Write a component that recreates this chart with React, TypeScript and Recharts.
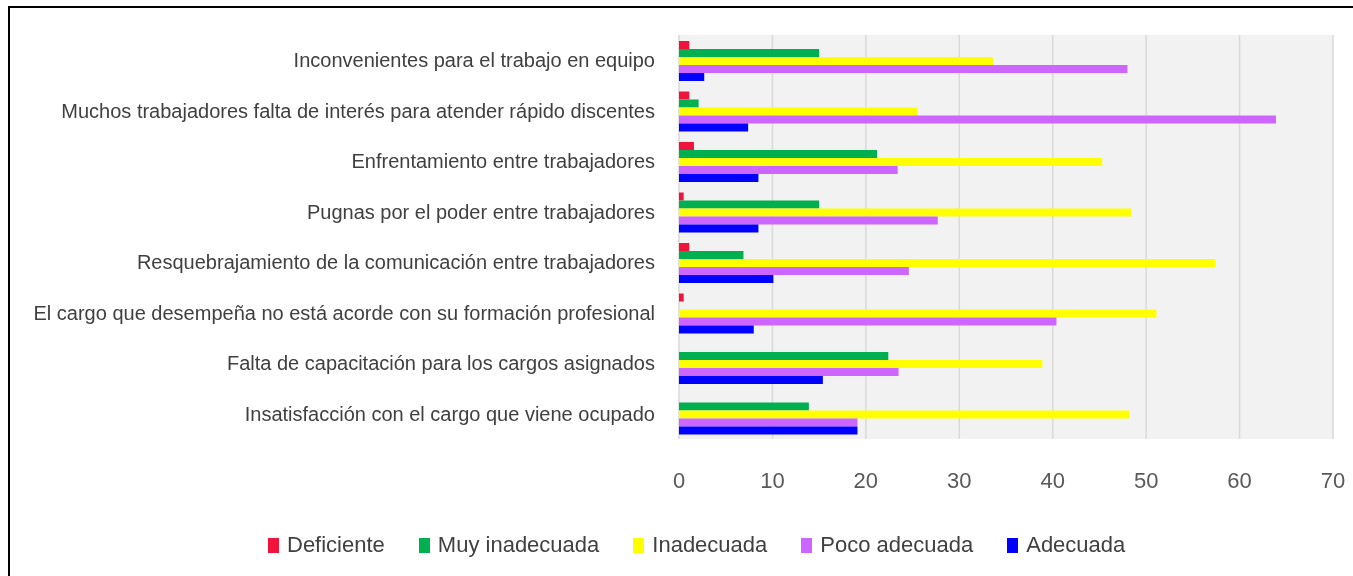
import { Bar, BarChart, CartesianGrid, Legend, XAxis, YAxis } from "recharts";

const categories = [
  "Inconvenientes para el trabajo en equipo",
  "Muchos trabajadores falta de interés para atender rápido discentes",
  "Enfrentamiento entre trabajadores",
  "Pugnas por el poder entre trabajadores",
  "Resquebrajamiento de la comunicación entre trabajadores",
  "El cargo que desempeña no está acorde con su formación profesional",
  "Falta de capacitación para los cargos asignados",
  "Insatisfacción con el cargo que viene ocupado",
];

const deficiente = [1.1, 1.1, 1.6, 0.5, 1.1, 0.5, 0, 0];
const muyInadecuada = [15, 2.1, 21.2, 15, 6.9, 0, 22.4, 13.9];
const inadecuada = [33.6, 25.5, 45.3, 48.4, 57.4, 51.1, 38.9, 48.2];
const pocoAdecuada = [48, 63.9, 23.4, 27.7, 24.6, 40.4, 23.5, 19.1];
const adecuada = [2.7, 7.4, 8.5, 8.5, 10.1, 8, 15.4, 19.1];

const xTicks = [0, 10, 20, 30, 40, 50, 60, 70];

const series = [
  { key: "deficiente", name: "Deficiente", color: "#f0143c" },
  { key: "muyInadecuada", name: "Muy inadecuada", color: "#00b050" },
  { key: "inadecuada", name: "Inadecuada", color: "#ffff00" },
  { key: "pocoAdecuada", name: "Poco adecuada", color: "#cc66ff" },
  { key: "adecuada", name: "Adecuada", color: "#0000ff" },
];

const data = categories.map((name, i) => ({
  name,
  deficiente: deficiente[i],
  muyInadecuada: muyInadecuada[i],
  inadecuada: inadecuada[i],
  pocoAdecuada: pocoAdecuada[i],
  adecuada: adecuada[i],
}));

const labelFont = "'Liberation Sans', Arial, sans-serif";

function ChartLegend() {
  return (
    <div
      style={{
        height: 30,
        display: "flex",
        alignItems: "center",
        paddingLeft: 260,
        fontFamily: labelFont,
        fontSize: 22,
        color: "#404040",
      }}
    >
      {series.map((s) => (
        <div key={s.key} style={{ display: "flex", alignItems: "center", marginRight: 34 }}>
          <span style={{ width: 11, height: 15, background: s.color, marginRight: 8 }} />
          <span>{s.name}</span>
        </div>
      ))}
    </div>
  );
}

export default function App() {
  return (
    <div style={{ position: "fixed", left: 8, top: 6, width: 1345, height: 570, overflow: "hidden" }}>
      <div
        style={{
          position: "absolute",
          left: 0,
          top: 0,
          width: 1400,
          height: 620,
          border: "2px solid #000",
        }}
      />
      <div style={{ position: "absolute", left: 0, top: 0 }}>
        <BarChart
          width={1345}
          height={570}
          data={data}
          layout="vertical"
          margin={{ top: 29, right: 20, bottom: 16, left: 0 }}
          barCategoryGap={6}
          barGap={0}
        >
          <CartesianGrid horizontal={false} fill="#f2f2f2" stroke="#d9d9d9" strokeWidth={1.5} />
          <XAxis
            type="number"
            domain={[0, 70]}
            ticks={xTicks}
            axisLine={false}
            tickLine={false}
            tickSize={0}
            tickMargin={33}
            height={91}
            tick={{ fill: "#595959", fontSize: 22, fontFamily: labelFont }}
          />
          <YAxis
            type="category"
            dataKey="name"
            width={671}
            axisLine={false}
            tickLine={false}
            tickSize={0}
            tickMargin={24}
            interval={0}
            tick={{ fill: "#404040", fontSize: 20, fontFamily: labelFont }}
          />
          <Legend verticalAlign="bottom" content={() => <ChartLegend />} />
          {series.map((s) => (
            <Bar key={s.key} dataKey={s.key} name={s.name} fill={s.color} isAnimationActive={false} />
          ))}
        </BarChart>
      </div>
    </div>
  );
}
